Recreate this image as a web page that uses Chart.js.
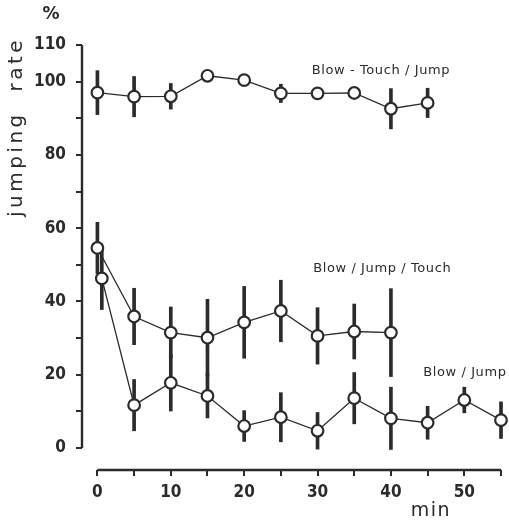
<!DOCTYPE html>
<html>
<head>
<meta charset="utf-8">
<script src="https://cdn.jsdelivr.net/npm/chart.js@4.4.1/dist/chart.umd.min.js"></script>
<style>
  html, body { margin: 0; padding: 0; background: #fff; }
  #wrap { position: relative; width: 509px; height: 523px; }
</style>
</head>
<body>
<div id="wrap"><canvas id="jumpChart"></canvas></div>
<script>
// minutes for each series (second group starts a bit right of 0 so both points show)
var touchJumpMin = [0, 5, 10, 15, 20, 25, 30, 35, 40, 45];
var jumpTouchMin = [0, 5, 10, 15, 20, 25, 30, 35, 40];
var blowJumpMin = [0.6, 5, 10, 15, 20, 25, 30, 35, 40, 45, 50, 55];

// jumping rate, % (mean)
var touchJumpRate = [97, 95.9, 96, 101.6, 100.4, 96.8, 96.8, 96.9, 92.6, 94.2];
var jumpTouchRate = [54.6, 35.9, 31.5, 30.1, 34.3, 37.4, 30.6, 31.8, 31.5];
var blowJumpRate = [46.3, 11.7, 17.8, 14.2, 6.0, 8.4, 4.7, 13.6, 8.1, 6.9, 13.1, 7.6];

// half length of the vertical bars
var touchJumpErr = [6, 5.5, 3.5, 0, 0, 2.5, 0, 0, 5.5, 4];
var jumpTouchErr = [7, 7.7, 7, 10.5, 9.8, 8.4, 7.7, 7.5, 12];
var blowJumpErr = [8.5, 7, 7.7, 6, 4.2, 6.7, 5, 7, 8.5, 4.5, 3.5, 5];

var seriesNames = ['Blow - Touch / Jump', 'Blow / Jump / Touch', 'Blow / Jump'];

var yTicks = [0, 10, 20, 30, 40, 50, 60, 70, 80, 90, 100, 110];
var xTicks = [0, 5, 10, 15, 20, 25, 30, 35, 40, 45, 50, 55];

var ink = '#2b2b2b';

function points(xs, ys) {
    return xs.map(function (x, i) { return { x: x, y: ys[i] }; });
}
function bars(xs, ys, errs) {
    return xs.map(function (x, i) { return { x: x, y: [ys[i] - errs[i], ys[i] + errs[i]] }; });
}
function lineSet(label, data) {
    return {
        type: 'line', label: label, data: data, order: 0,
        borderColor: ink, borderWidth: 1.3, tension: 0,
        pointRadius: 5.8, pointBorderWidth: 2.2,
        pointBackgroundColor: '#fff', pointBorderColor: ink,
        clip: false
    };
}
function barSet(data) {
    return {
        type: 'bar', data: data, order: 5, grouped: false,
        barThickness: 3, backgroundColor: ink, borderWidth: 0, clip: false
    };
}

// axis lines, labels and series names
var decor = {
    id: 'decor',
    afterDraw: function (chart) {
        var ctx = chart.ctx, x = chart.scales.x, y = chart.scales.y;
        ctx.save();
        ctx.strokeStyle = ink;
        ctx.lineWidth = 2.4;
        ctx.beginPath();
        ctx.moveTo(x.left, y.getPixelForValue(0));
        ctx.lineTo(x.left, y.getPixelForValue(110));
        ctx.stroke();
        ctx.beginPath();
        ctx.moveTo(x.getPixelForValue(0), y.bottom);
        ctx.lineTo(x.getPixelForValue(55), y.bottom);
        ctx.stroke();

        ctx.fillStyle = ink;
        ctx.font = '13px "DejaVu Sans"';
        ctx.letterSpacing = '0.6px';
        ctx.textBaseline = 'middle';
        ctx.textAlign = 'left';
        ctx.fillText(seriesNames[0], x.getPixelForValue(29.2), y.getPixelForValue(102.9));
        ctx.fillText(seriesNames[1], x.getPixelForValue(29.4), y.getPixelForValue(48.9));
        ctx.fillText(seriesNames[2], x.getPixelForValue(44.4), y.getPixelForValue(20.7));

        ctx.font = 'bold 17px "DejaVu Sans"';
        ctx.letterSpacing = '0px';
        ctx.textAlign = 'center';
        ctx.fillText('%', 51, 15);

        ctx.font = '19px "DejaVu Sans"';
        ctx.letterSpacing = '1.5px';
        ctx.fillText('min', 431, 511);

        ctx.translate(22, 127);
        ctx.rotate(-Math.PI / 2);
        ctx.font = '20px "DejaVu Sans"';
        ctx.letterSpacing = '3.5px';
        ctx.textBaseline = 'alphabetic';
        ctx.fillText('jumping  rate', 0, 0);
        ctx.restore();
    }
};

new Chart(document.getElementById('jumpChart'), {
    type: 'line',
    data: {
        datasets: [
            lineSet(seriesNames[0], points(touchJumpMin, touchJumpRate)),
            lineSet(seriesNames[1], points(jumpTouchMin, jumpTouchRate)),
            lineSet(seriesNames[2], points(blowJumpMin, blowJumpRate)),
            barSet(bars(touchJumpMin, touchJumpRate, touchJumpErr)),
            barSet(bars(jumpTouchMin, jumpTouchRate, jumpTouchErr)),
            barSet(bars(blowJumpMin, blowJumpRate, blowJumpErr))
        ]
    },
    options: {
        responsive: true,
        maintainAspectRatio: false,
        animation: false,
        layout: { padding: { top: 45, right: 4, left: 0, bottom: 0 } },
        plugins: { legend: { display: false }, tooltip: { enabled: false } },
        scales: {
            x: {
                type: 'linear', min: -2.1, max: 55, offset: false,
                afterBuildTicks: function (s) { s.ticks = xTicks.map(function (v) { return { value: v }; }); },
                afterFit: function (s) { s.height = 53; },
                border: { display: false },
                grid: { offset: false, drawOnChartArea: false, drawTicks: true, tickLength: 6, color: ink, lineWidth: 2 },
                ticks: {
                    autoSkip: false, maxRotation: 0, padding: 6, color: ink,
                    font: { family: '"DejaVu Sans Condensed", "DejaVu Sans"', size: 17, weight: 'bold' },
                    callback: function (v) { return (v % 10 === 0 && v <= 50) ? String(v) : ''; }
                }
            },
            y: {
                type: 'linear', min: -6, max: 110, beginAtZero: false,
                afterBuildTicks: function (s) { s.ticks = yTicks.map(function (v) { return { value: v }; }); },
                afterFit: function (s) { s.width = 82; },
                border: { display: false },
                grid: { drawOnChartArea: false, drawTicks: true, tickLength: 6, color: ink, lineWidth: 2 },
                ticks: {
                    autoSkip: false, padding: 10, color: ink,
                    font: { family: '"DejaVu Sans Condensed", "DejaVu Sans"', size: 17, weight: 'bold' },
                    callback: function (v) { return (v === 110 || v % 20 === 0) ? String(v) : ''; }
                }
            }
        }
    },
    plugins: [decor]
});
</script>
</body>
</html>
